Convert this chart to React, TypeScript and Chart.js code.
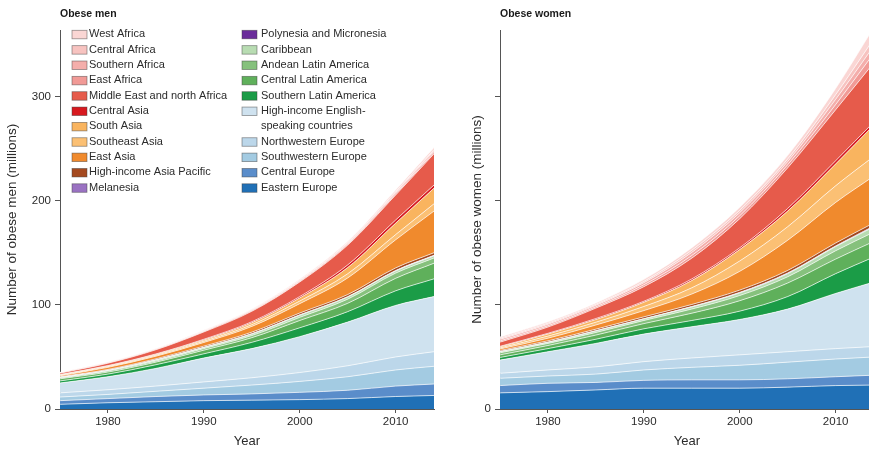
import React, { useEffect, useRef } from 'react';
import { Chart, registerables } from 'chart.js';

Chart.register(...registerables);

// ---- Data (millions of obese adults) ----
const years = [1975, 1980, 1985, 1990, 1995, 2000, 2005, 2010, 2014];
const xTickYears = [1980, 1990, 2000, 2010];
const yTickValues = [0, 100, 200, 300];

// Stacking order: bottom -> top
const regionNames = [
  'Eastern Europe',
  'Central Europe',
  'Southwestern Europe',
  'Northwestern Europe',
  'High-income English-speaking countries',
  'Southern Latin America',
  'Central Latin America',
  'Andean Latin America',
  'Caribbean',
  'Polynesia and Micronesia',
  'Melanesia',
  'High-income Asia Pacific',
  'East Asia',
  'Southeast Asia',
  'South Asia',
  'Central Asia',
  'Middle East and north Africa',
  'East Africa',
  'Southern Africa',
  'Central Africa',
  'West Africa',
];

const regionColors = [
  '#2070b6',
  '#5a8dca',
  '#a3cbe2',
  '#bcd7ea',
  '#cfe2ef',
  '#1b9c47',
  '#5fb05b',
  '#86c17d',
  '#b8dcb2',
  '#6a2c9a',
  '#9a72c2',
  '#a4491f',
  '#f08a2d',
  '#fbc074',
  '#f9b45f',
  '#d7191f',
  '#e65b4b',
  '#f19a96',
  '#f4aeab',
  '#f7c3c0',
  '#fad6d4',
];

// Obese men
const menEasternEurope = [4.5, 6, 7, 8, 8.5, 9, 10, 12, 13];
const menCentralEurope = [3.5, 4, 5, 5.5, 6, 7, 8, 10, 11];
const menSouthwesternEurope = [3.5, 4, 5, 6.5, 8.5, 10.5, 13, 15.5, 17];
const menNorthwesternEurope = [4, 4.5, 5, 6, 7, 8.5, 10.5, 12.5, 14];
const menHighIncomeEnglish = [9.5, 12.5, 17, 23, 28, 34.5, 42, 49.5, 53];
const menSouthernLatinAmerica = [2, 2.5, 3.5, 4, 6, 8.5, 10, 14, 17];
const menCentralLatinAmerica = [2, 2, 2.5, 3.5, 4.5, 7, 8, 12, 15];
const menAndeanLatinAmerica = [0.7, 1, 1, 1.5, 2, 3, 4, 5, 5];
const menCaribbean = [0.5, 0.5, 1, 1, 1.5, 2, 2, 2, 2];
const menPolynesia = [0.1, 0.1, 0.1, 0.1, 0.2, 0.2, 0.2, 0.3, 0.3];
const menMelanesia = [0.1, 0.1, 0.1, 0.1, 0.1, 0.2, 0.2, 0.2, 0.3];
const menHighIncomeAsiaPacific = [0.5, 0.8, 1, 1.2, 1.5, 1.8, 2, 2.5, 2.5];
const menEastAsia = [1, 2, 2.5, 3.5, 5.5, 9, 16, 27, 40];
const menSoutheastAsia = [0.5, 0.7, 0.9, 1.2, 1.7, 2.5, 4, 5, 7];
const menSouthAsia = [0.4, 0.6, 0.8, 1.2, 1.8, 3, 6, 11, 15];
const menCentralAsia = [0.3, 0.4, 0.5, 0.7, 1, 1.3, 2.5, 3, 3];
const menMiddleEast = [1.3, 2.3, 4, 7, 10, 14, 19, 24, 30];
const menEastAfrica = [0.2, 0.3, 0.4, 0.5, 0.6, 0.7, 0.9, 1.2, 1.5];
const menSouthernAfrica = [0.2, 0.3, 0.3, 0.5, 0.6, 0.8, 1, 1.3, 1.5];
const menCentralAfrica = [0.1, 0.2, 0.2, 0.3, 0.4, 0.5, 0.6, 0.8, 1];
const menWestAfrica = [0.2, 0.3, 0.4, 0.5, 0.7, 0.9, 1.2, 1.6, 2];

// Obese women
const womenEasternEurope = [15.5, 16.7, 18.3, 20, 20, 20, 21, 22.5, 23];
const womenCentralEurope = [7, 8, 7.2, 7.5, 8, 8, 8, 8.5, 9.5];
const womenSouthwesternEurope = [7, 7, 8, 10, 12, 14, 16, 17, 17.5];
const womenNorthwesternEurope = [4.8, 5.8, 7, 8, 9, 10, 10, 10, 10];
const womenHighIncomeEnglish = [12.7, 17.5, 22.5, 26.5, 30, 34, 41, 53, 62];
const womenSouthernLatinAmerica = [2.5, 3, 4, 5, 6, 8, 12, 19, 24];
const womenCentralLatinAmerica = [2.5, 3, 4, 5, 7, 10, 13, 14, 15];
const womenAndeanLatinAmerica = [2, 2, 2.5, 3, 4, 5, 6, 8, 9];
const womenCaribbean = [1, 1, 1.5, 1.5, 2, 2.5, 3, 4, 5];
const womenPolynesia = [0.1, 0.1, 0.1, 0.1, 0.2, 0.2, 0.3, 0.3, 0.4];
const womenMelanesia = [0.1, 0.1, 0.1, 0.1, 0.2, 0.3, 0.3, 0.3, 0.4];
const womenHighIncomeAsiaPacific = [1, 1.3, 1.5, 1.8, 2, 2.2, 2.5, 2.8, 3];
const womenEastAsia = [1.5, 2.5, 4, 6, 10, 18, 29, 39, 45];
const womenSoutheastAsia = [1, 2, 2.7, 4, 6, 10, 13, 16, 19];
const womenSouthAsia = [1, 2, 2.5, 4, 7, 11, 15, 21, 30];
const womenCentralAsia = [0.5, 0.7, 1, 1, 1.5, 1.6, 2.5, 3, 3];
const womenMiddleEast = [4, 6, 10, 14, 20, 28, 39, 49, 57];
const womenEastAfrica = [1.2, 1.2, 1.2, 1.8, 2.5, 2.8, 3, 5, 9];
const womenSouthernAfrica = [1.5, 1.5, 1.5, 2, 3, 3, 3, 5, 7];
const womenCentralAfrica = [1, 1, 1, 1.2, 2, 2.2, 2.5, 4.5, 7];
const womenWestAfrica = [1.3, 1.3, 1.3, 2, 2.5, 3, 3.5, 6, 11];

const menSeries = [
  menEasternEurope, menCentralEurope, menSouthwesternEurope, menNorthwesternEurope,
  menHighIncomeEnglish, menSouthernLatinAmerica, menCentralLatinAmerica, menAndeanLatinAmerica,
  menCaribbean, menPolynesia, menMelanesia, menHighIncomeAsiaPacific, menEastAsia,
  menSoutheastAsia, menSouthAsia, menCentralAsia, menMiddleEast, menEastAfrica,
  menSouthernAfrica, menCentralAfrica, menWestAfrica,
];

const womenSeries = [
  womenEasternEurope, womenCentralEurope, womenSouthwesternEurope, womenNorthwesternEurope,
  womenHighIncomeEnglish, womenSouthernLatinAmerica, womenCentralLatinAmerica, womenAndeanLatinAmerica,
  womenCaribbean, womenPolynesia, womenMelanesia, womenHighIncomeAsiaPacific, womenEastAsia,
  womenSoutheastAsia, womenSouthAsia, womenCentralAsia, womenMiddleEast, womenEastAfrica,
  womenSouthernAfrica, womenCentralAfrica, womenWestAfrica,
];

const FONT = '"Liberation Sans", Arial, "DejaVu Sans", sans-serif';
const TEXT = '#2b2b2b';
const AXIS = '#555555';

function buildDatasets(series: number[][]) {
  return series.map((vals, i) => ({
    label: regionNames[i],
    data: vals.map((v, j) => ({ x: years[j], y: v })),
    backgroundColor: regionColors[i],
    borderColor: 'rgba(255,255,255,0.85)',
    borderWidth: 0.8,
    fill: i === 0 ? 'origin' : '-1',
    pointRadius: 0,
    pointHoverRadius: 0,
    cubicInterpolationMode: 'monotone',
    clip: false,
  }));
}

function panelTitlePlugin(text: string) {
  return {
    id: 'panelTitle',
    afterDraw(chart: any) {
      const ctx = chart.ctx;
      ctx.save();
      ctx.font = `bold 10.5px ${FONT}`;
      ctx.fillStyle = '#1a1a1a';
      ctx.textAlign = 'left';
      ctx.textBaseline = 'middle';
      ctx.fillText(text, chart.chartArea.left, 14);
      ctx.restore();
    },
  };
}

const legendPlugin = {
  id: 'regionLegend',
  afterDraw(chart: any) {
    const ctx = chart.ctx;
    const top = 34.3;
    const rowH = 15.35;
    ctx.save();
    ctx.font = `11px ${FONT}`;
    ctx.textBaseline = 'middle';
    ctx.textAlign = 'left';
    const drawColumn = (indices: number[], boxX: number, textX: number) => {
      let row = 0;
      indices.forEach((idx) => {
        const y = top + row * rowH;
        ctx.fillStyle = regionColors[idx];
        ctx.fillRect(boxX, y - 4, 15, 8.5);
        ctx.strokeStyle = 'rgba(60,60,60,0.55)';
        ctx.lineWidth = 0.8;
        ctx.strokeRect(boxX, y - 4, 15, 8.5);
        ctx.fillStyle = TEXT;
        const name = regionNames[idx];
        if (name === 'High-income English-speaking countries') {
          ctx.fillText('High-income English-', textX, y);
          ctx.fillText('speaking countries', textX, y + rowH);
          row += 2;
        } else {
          ctx.fillText(name, textX, y);
          row += 1;
        }
      });
    };
    const col1 = [20, 19, 18, 17, 16, 15, 14, 13, 12, 11, 10];
    const col2 = [9, 8, 7, 6, 5, 4, 3, 2, 1, 0];
    drawColumn(col1, 72, 89);
    drawColumn(col2, 242, 261);
    ctx.restore();
  },
};

function makeConfig(series: number[][], panelTitle: string, yTitle: string, isLeft: boolean): any {
  return {
    type: 'line',
    data: { datasets: buildDatasets(series) },
    options: {
      animation: false,
      responsive: false,
      devicePixelRatio: 1,
      events: [],
      layout: { padding: { left: isLeft ? 0 : 25, right: 6, top: 30, bottom: 0 } },
      plugins: {
        legend: { display: false },
        tooltip: { enabled: false },
        title: { display: false },
      },
      scales: {
        x: {
          type: 'linear',
          min: 1975,
          max: 2014,
          afterBuildTicks: (s: any) => {
            s.ticks = xTickYears.map((v) => ({ value: v }));
          },
          afterFit: (s: any) => {
            s.height = 40;
          },
          grid: { display: true, drawOnChartArea: false, drawTicks: true, tickLength: 4, color: AXIS, lineWidth: 1 },
          border: { display: true, color: AXIS, width: 1 },
          ticks: {
            color: TEXT,
            font: { family: FONT, size: 11.5 },
            padding: 2,
            maxRotation: 0,
            autoSkip: false,
            callback: (v: any) => String(v),
          },
          title: {
            display: true,
            text: 'Year',
            color: TEXT,
            font: { family: FONT, size: 13 },
            padding: { top: 1, bottom: 0 },
          },
        },
        y: {
          type: 'linear',
          stacked: true,
          min: 0,
          max: 364,
          afterBuildTicks: (s: any) => {
            s.ticks = yTickValues.map((v) => ({ value: v }));
          },
          afterFit: (s: any) => {
            s.width = isLeft ? 60 : 35;
          },
          grid: { display: true, drawOnChartArea: false, drawTicks: true, tickLength: 5, color: AXIS, lineWidth: 1 },
          border: { display: true, color: AXIS, width: 1 },
          ticks: {
            color: TEXT,
            font: { family: FONT, size: 11.5 },
            padding: 4,
            autoSkip: false,
            callback: (v: any) => (isLeft || v === 0 ? String(v) : ''),
          },
          title: {
            display: true,
            text: yTitle,
            color: TEXT,
            font: { family: FONT, size: 13.5 },
            padding: { top: 4, bottom: 0 },
          },
        },
      },
    },
    plugins: isLeft ? [panelTitlePlugin(panelTitle), legendPlugin] : [panelTitlePlugin(panelTitle)],
  };
}

export default function App() {
  const leftRef = useRef<HTMLCanvasElement | null>(null);
  const rightRef = useRef<HTMLCanvasElement | null>(null);

  useEffect(() => {
    if (!leftRef.current || !rightRef.current) return;
    const left = new Chart(leftRef.current, makeConfig(menSeries, 'Obese men', 'Number of obese men (millions)', true));
    const right = new Chart(
      rightRef.current,
      makeConfig(womenSeries, 'Obese women', 'Number of obese women (millions)', false)
    );
    return () => {
      left.destroy();
      right.destroy();
    };
  }, []);

  return (
    <div
      style={{
        position: 'fixed',
        left: 0,
        top: 0,
        width: 869,
        height: 449,
        overflow: 'hidden',
        background: '#ffffff',
      }}
    >
      <canvas ref={leftRef} width={440} height={449} style={{ position: 'absolute', left: 0, top: 0, display: 'block' }} />
      <canvas ref={rightRef} width={440} height={449} style={{ position: 'absolute', left: 440, top: 0, display: 'block' }} />
    </div>
  );
}
